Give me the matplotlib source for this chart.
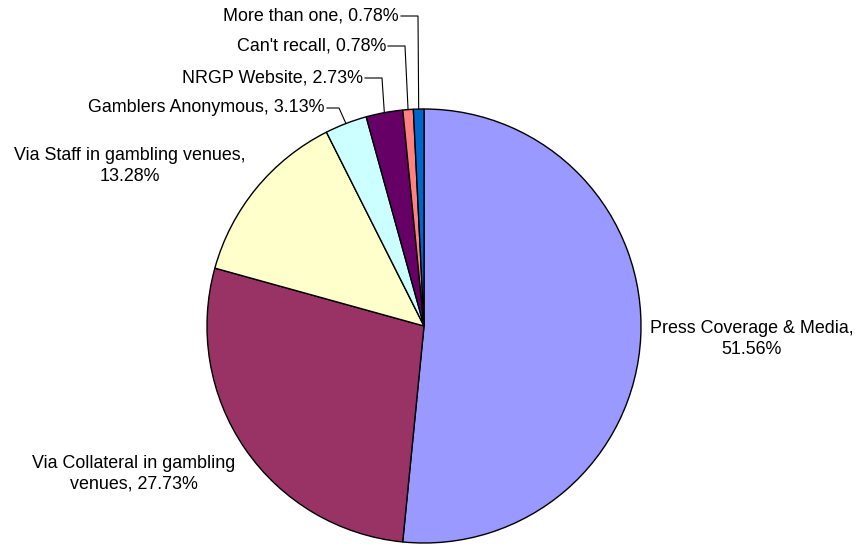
import numpy as np
import matplotlib
matplotlib.use("Agg")
import matplotlib.pyplot as plt

plt.rcParams['font.family'] = ['Liberation Sans', 'DejaVu Sans']

sources = ["Press Coverage & Media", "Via Collateral in gambling venues",
           "Via Staff in gambling venues", "Gamblers Anonymous", "NRGP Website",
           "Can't recall", "More than one"]
shares = [51.56, 27.73, 13.28, 3.13, 2.73, 0.78, 0.78]
colors = ["#9999FF", "#993366", "#FFFFCC", "#CCFFFF", "#660066", "#FF8080", "#0066CC"]

W, H = 861, 544
cx, cy, R = 424, H - 326, 217

fig = plt.figure(figsize=(W / 100, H / 100), dpi=100)
ax = fig.add_axes([0, 0, 1, 1])
wedges, _ = ax.pie(shares, colors=colors, startangle=90, counterclock=False,
                   center=(cx, cy), radius=R,
                   wedgeprops=dict(edgecolor="black", linewidth=1))
ax.set_xlim(0, W)
ax.set_ylim(0, H)
ax.set_aspect('equal')
ax.axis('off')

fs = 12.9

def lbl(i):
    return f"{sources[i]}, {shares[i]:.2f}%"

# big slices: labels placed beside the pie, no leader
ax.text(752, H - 339, "Press Coverage & Media,\n51.56%", ha="center", va="center",
        fontsize=fs, linespacing=1.3)
ax.text(134, H - 474, "Via Collateral in gambling\nvenues, 27.73%", ha="center", va="center",
        fontsize=fs, linespacing=1.3)
ax.text(130, H - 166, "Via Staff in gambling venues,\n13.28%", ha="center", va="center",
        fontsize=fs, linespacing=1.3)

# small slices: labels up top with elbow leader lines to the slice edge
small = {3: (325, 108, 12), 4: (363, 78, 17), 5: (386, 46, 17), 6: (399, 16, 17)}
for i, (xe, ye, dx) in small.items():
    w = wedges[i]
    mid = np.deg2rad((w.theta1 + w.theta2) / 2)
    px, py = cx + R * np.cos(mid), cy + R * np.sin(mid)
    ax.text(xe, H - ye, lbl(i), ha="right", va="center", fontsize=fs)
    ax.plot([xe + 2, xe + 2 + dx, px], [H - ye, H - ye, py], color="black", lw=0.8)

fig.savefig("out.png", dpi=100)
